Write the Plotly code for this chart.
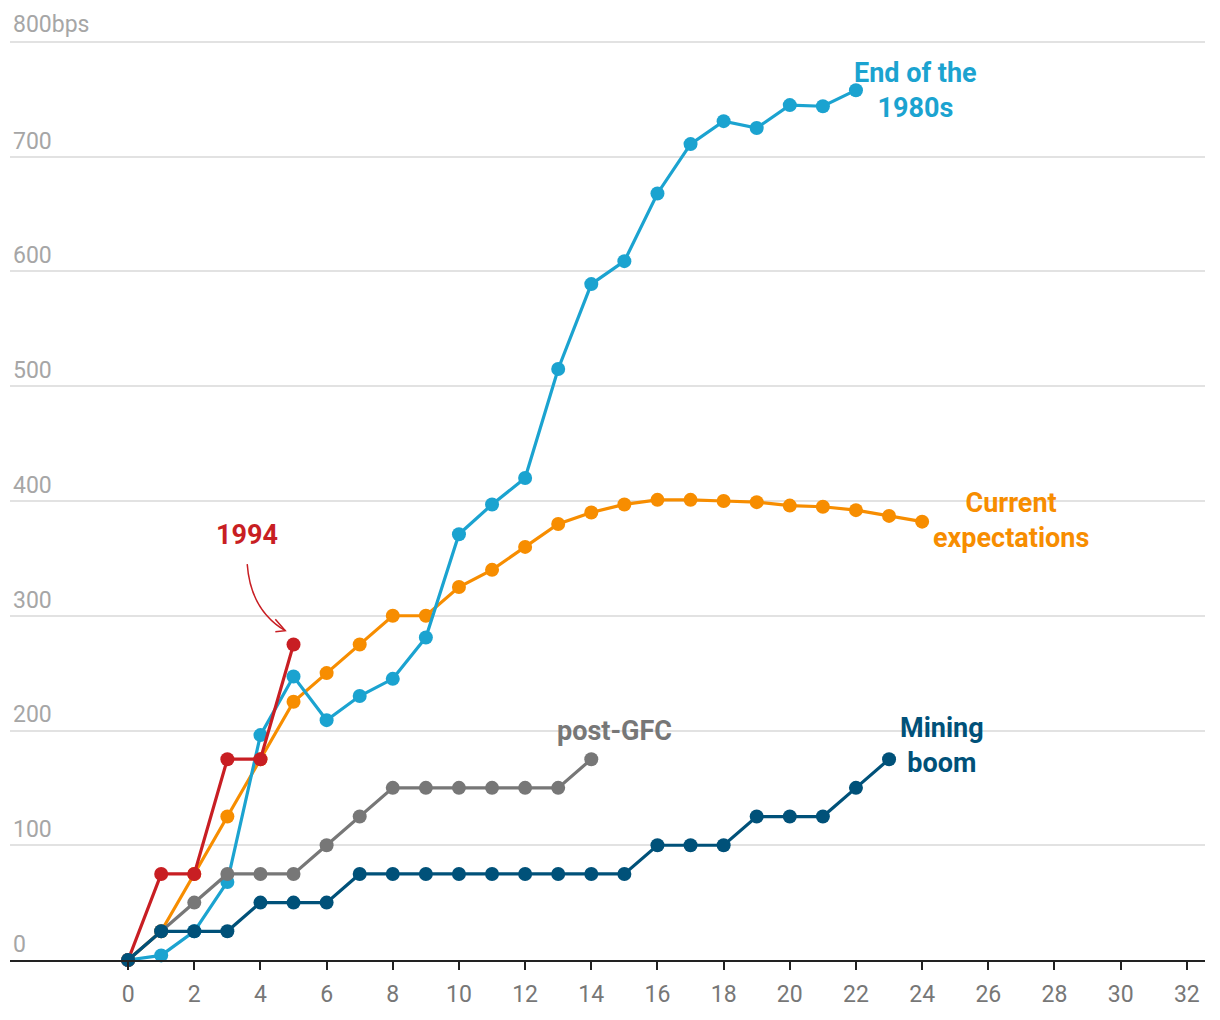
import plotly.graph_objects as go

# ---- data ----
eighties_x = list(range(0, 23))
eighties_y = [0, 4, 25, 68, 196, 247, 209, 230, 245, 281, 371, 397, 420, 515, 589, 609, 668, 711, 731, 725, 745, 744, 758]

current_x = list(range(0, 25))
current_y = [0, 25, 75, 125, 175, 225, 250, 275, 300, 300, 325, 340, 360, 380, 390, 397, 401, 401, 400, 399, 396, 395, 392, 387, 382]

y1994_x = list(range(0, 6))
y1994_y = [0, 75, 75, 175, 175, 275]

gfc_x = list(range(0, 15))
gfc_y = [0, 25, 50, 75, 75, 75, 100, 125, 150, 150, 150, 150, 150, 150, 175]

mining_x = list(range(0, 24))
mining_y = [0, 25, 25, 25, 50, 50, 50, 75, 75, 75, 75, 75, 75, 75, 75, 75, 100, 100, 100, 125, 125, 125, 150, 175]

y_ticks = [0, 100, 200, 300, 400, 500, 600, 700, 800]
y_tick_text = ["0", "100", "200", "300", "400", "500", "600", "700", ""]
top_label = "800bps"
x_ticks = list(range(0, 33, 2))

C_LB = "#1ba3d0"
C_OR = "#f78d00"
C_RED = "#c81e23"
C_GR = "#777777"
C_DB = "#005179"

fig = go.Figure()

def add(x, y, c):
    fig.add_trace(go.Scatter(x=x, y=y, mode="lines+markers",
                             line=dict(color=c, width=3.2),
                             marker=dict(color=c, size=14),
                             cliponaxis=False, hoverinfo="skip",
                             showlegend=False))

add(current_x, current_y, C_OR)
add(eighties_x, eighties_y, C_LB)
add(y1994_x, y1994_y, C_RED)
add(gfc_x, gfc_y, C_GR)
add(mining_x, mining_y, C_DB)

def label(x, y, text, c):
    fig.add_annotation(x=x, y=y, text=text, showarrow=False,
                       font=dict(family="Roboto", size=27, color=c),
                       align="center")

label(23.8, 758, "<b>End of the<br>1980s</b>", C_LB)
label(26.7, 383, "<b>Current<br>expectations</b>", C_OR)
label(3.6, 370, "<b>1994</b>", C_RED)
label(14.7, 200, "<b>post-GFC</b>", C_GR)
label(24.6, 187, "<b>Mining<br>boom</b>", C_DB)

# top y label (outside plot top edge)
fig.add_annotation(xref="paper", x=0, y=y_ticks[-1], text=top_label,
                   showarrow=False, xanchor="left", yanchor="bottom",
                   xshift=1, yshift=2,
                   font=dict(family="Roboto", size=23, color="#a6a6a6"))

# curved arrow for 1994
fig.add_shape(type="path", xref="x", yref="y",
              path="M 3.6,345 Q 3.7,305 4.75,287",
              line=dict(color=C_RED, width=1.5))
fig.add_shape(type="path", xref="x", yref="y",
              path="M 4.45,297 L 4.75,287 L 4.45,286",
              line=dict(color=C_RED, width=1.5))

fig.update_layout(
    width=1220, height=1020,
    margin=dict(l=10, r=15, t=39, b=60),
    plot_bgcolor="white", paper_bgcolor="white",
    font=dict(family="Roboto"),
    xaxis=dict(range=[-3.57, 32.55], tickvals=x_ticks,
               showgrid=False, zeroline=False,
               showline=True, linecolor="#222", linewidth=2,
               ticks="outside", ticklen=8, tickwidth=2, tickcolor="#222",
               tickfont=dict(family="Roboto", size=23, color="#777"),
               ticklabelstandoff=4),
    yaxis=dict(range=[0, 802.6], tickvals=y_ticks, ticktext=y_tick_text,
               ticklabelposition="inside top",
               showgrid=True, gridcolor="#e2e2e2", gridwidth=1.5,
               zeroline=False, showline=False, ticks="",
               tickfont=dict(family="Roboto", size=23, color="#a6a6a6")),
)

fig.write_html("out.html")
